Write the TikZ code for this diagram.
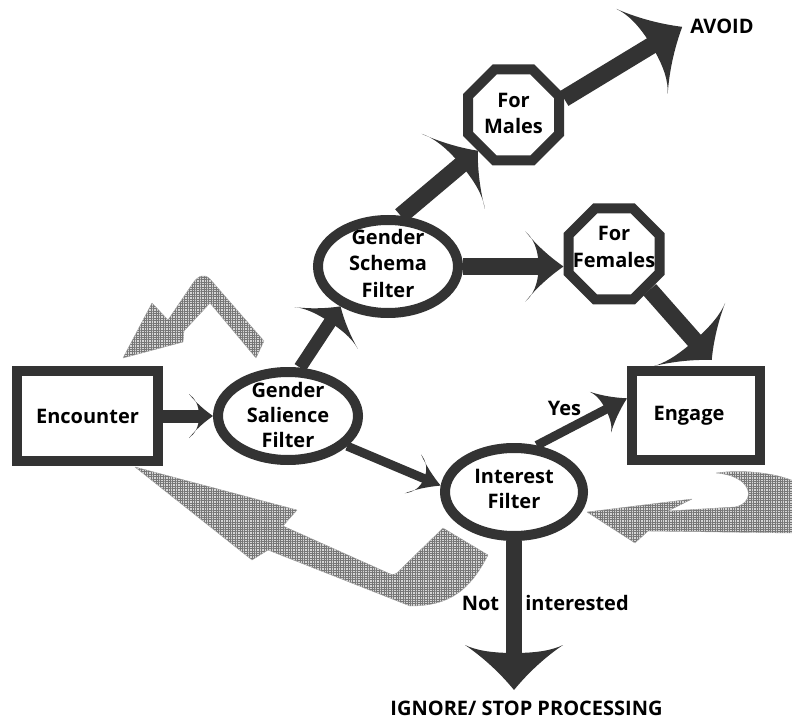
\documentclass[tikz,border=0pt]{standalone}
\usepackage{fontspec}
\setmainfont{Open Sans}
\usetikzlibrary{shapes.geometric,arrows.meta,patterns.meta}

\definecolor{dk}{HTML}{333333}
\definecolor{hatchline}{HTML}{767676}
\definecolor{hatchbg}{HTML}{D6D6D6}

\pgfdeclarearrow{
  name = Swoop,
  parameters = {\the\pgfarrowlength,\the\pgfarrowwidth,\the\pgfarrowinset},
  setup code = {
    \pgfarrowssettipend{\pgfarrowlength}
    \pgfarrowssetlineend{\dimexpr\pgfarrowinset+1pt\relax}
    \pgfarrowssetbackend{0pt}
    \pgfarrowssavethe\pgfarrowlength
    \pgfarrowssavethe\pgfarrowwidth
    \pgfarrowssavethe\pgfarrowinset
  },
  drawing code = {
    \pgfpathmoveto{\pgfqpoint{\pgfarrowlength}{0pt}}
    \pgfpathcurveto{\pgfqpoint{.6\pgfarrowlength}{.15\pgfarrowwidth}}{\pgfqpoint{.25\pgfarrowlength}{.33\pgfarrowwidth}}{\pgfqpoint{0pt}{.5\pgfarrowwidth}}
    \pgfpathcurveto{\pgfqpoint{.6\pgfarrowinset}{.4\pgfarrowwidth}}{\pgfqpoint{\pgfarrowinset}{.25\pgfarrowwidth}}{\pgfqpoint{\pgfarrowinset}{0pt}}
    \pgfpathcurveto{\pgfqpoint{\pgfarrowinset}{-.25\pgfarrowwidth}}{\pgfqpoint{.6\pgfarrowinset}{-.4\pgfarrowwidth}}{\pgfqpoint{0pt}{-.5\pgfarrowwidth}}
    \pgfpathcurveto{\pgfqpoint{.25\pgfarrowlength}{-.33\pgfarrowwidth}}{\pgfqpoint{.6\pgfarrowlength}{-.15\pgfarrowwidth}}{\pgfqpoint{\pgfarrowlength}{0pt}}
    \pgfpathclose
    \pgfusepathqfill
  },
  defaults = {length=25pt, width=45pt, inset=8pt}
}

\tikzset{
  base/.style={draw=dk, line width=10pt, outer sep=5pt, inner sep=0pt, fill=white,
    font=\fontsize{20}{25}\selectfont\bfseries},
  box/.style={base, rectangle},
  ell/.style={base, ellipse},
  oct/.style={base, regular polygon, regular polygon sides=8},
  lbl/.style={align=center, inner sep=0pt, font=\fontsize{20}{25}\selectfont\bfseries},
  conn/.style={draw=dk, line cap=butt},
  txt/.style={font=\fontsize{20}{24}\selectfont\bfseries, inner sep=0pt, anchor=base},
  hatch/.style={preaction={fill=hatchbg}, pattern={Hatch[angle=0,distance=2.4pt,line width=0.8pt]},
    pattern color=hatchline, draw=gray!70, line width=0.4pt, line join=round}
}

\begin{document}
\begin{tikzpicture}[x=1pt,y=-1pt]
\useasboundingbox (0,0) rectangle (792,719);

% gray feedback arrows
\begin{scope}
\clip (0,0) rectangle (792,719);
\path[hatch] (123,358) -- (152,303) -- (168,320) -- (193,283)
  .. controls (198,276) and (204,273) .. (210,279) -- (264,341) -- (256,358)
  -- (210,303) -- (184,331) -- (183,342) -- cycle;
\path[hatch] (135,467) -- (297,510) -- (283,526) -- (388,573)
  .. controls (393,576) and (397,574) .. (400,570) -- (443,528) -- (488,555)
  .. controls (470,590) and (450,606) .. (410,606) -- (268,550) -- (252,560) -- cycle;
\path[hatch] (587,512) -- (692,499) -- (668,511) -- (735,507)
  .. controls (756,503) and (754,476) .. (716,473)
  .. controls (752,468) and (800,476) .. (812,494)
  .. controls (822,515) and (808,533) .. (790,533) -- (648,531) -- (635,543) -- cycle;
\end{scope}

% nodes
\node[box, minimum width=141pt, minimum height=90pt] (enc) at (87.5,416) {Encounter};
\node[box, minimum width=128pt, minimum height=89pt] (engage) at (696,415.5) {\hspace*{-14pt}Engage};
\node[ell, minimum width=140pt, minimum height=88pt,
  label={[lbl, yshift=1pt]center:Gender\\Salience\\Filter}] (gsf) at (288,416) {};
\node[ell, minimum width=140pt, minimum height=93pt,
  label={[lbl, yshift=3pt, font=\fontsize{20}{26}\selectfont\bfseries]center:Gender\\Schema\\Filter}] (schema) at (388,266.5) {};
\node[ell, minimum width=138pt, minimum height=88pt,
  label={[lbl, yshift=3.5pt]center:Interest\\Filter}] (interest) at (514,492) {};
\node[oct, minimum size=98.5pt,
  label={[lbl, yshift=2pt, font=\fontsize{20}{26}\selectfont\bfseries]center:For\\Males}] (males) at (513.5,115) {};
\node[oct, minimum size=98.5pt,
  label={[lbl, yshift=7.5pt, font=\fontsize{20}{27}\selectfont\bfseries]center:For\\Females}] (females) at (614,254) {};

\node[txt, inner sep=8pt] (avoid) at (722,34) {AVOID};
\node[txt] (ignore) at (526.5,715.5) {IGNORE/ STOP PROCESSING};
\node[txt] (yes) at (564.5,415) {Yes};
\node[txt] (not) at (480.5,610) {Not};
\node[txt] (intd) at (577,610) {interested};
\coordinate (ignoretip) at (514,690);

% connectors
\draw[conn, line width=13pt, -{Swoop[length=24pt,width=44pt,inset=10pt]}] (enc) -- (gsf);
\draw[conn, line width=13pt, -{Swoop[length=26pt,width=76pt,inset=7pt]}] (gsf.76) -- (schema.220);
\draw[conn, line width=17pt, -{Swoop[length=32pt,width=98pt,inset=10pt]}] (schema.76) -- (males.225);
\draw[conn, line width=17pt, -{Swoop[length=38pt,width=70pt,inset=13pt]}] (schema.east) -- (schema.east -| females.west);
\draw[conn, line width=17pt, -{Swoop[length=47pt,width=99pt,inset=11pt]}] (males.18) -- (avoid.west);
\draw[conn, line width=17pt, shorten >=8pt, -{Swoop[length=34pt,width=96pt,inset=8pt]}] (females.315) -- (engage.67);
\draw[conn, line width=9pt, -{Swoop[length=30pt,width=46pt,inset=6pt]}] (interest.64) -- (engage.166);
\draw[conn, line width=9pt, -{Swoop[length=30pt,width=42pt,inset=12pt]}] (gsf.333) -- (interest.175);
\draw[conn, line width=16pt, -{Swoop[length=45pt,width=98pt,inset=8pt]}] (interest.south) -- (ignoretip);
\end{tikzpicture}
\end{document}
